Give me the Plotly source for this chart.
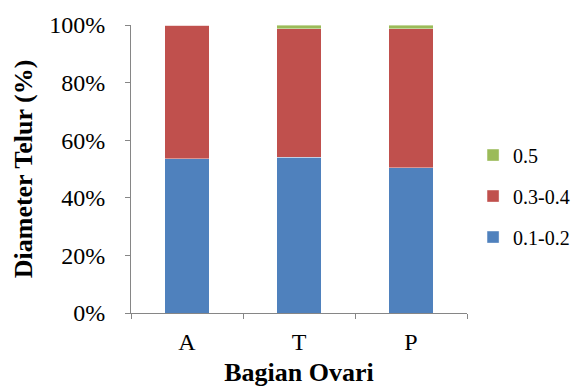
import plotly.graph_objects as go

categories = ["A", "T", "P"]
series_names = ["0.1-0.2", "0.3-0.4", "0.5"]
legend_ranks = [3, 2, 1]
v_small = [53.5, 54.1, 50.5]
v_mid = [46.5, 44.6, 48.2]
v_large = [0.0, 1.3, 1.3]
colors = ["#4F81BD", "#C0504D", "#9BBB59"]
ytick_vals = [0, 20, 40, 60, 80, 100]
ytick_text = ["0%", "20%", "40%", "60%", "80%", "100%"]

font_family = "Liberation Serif"

fig = go.Figure()
for name, vals, col, rk in zip(series_names, [v_small, v_mid, v_large], colors, legend_ranks):
    fig.add_trace(go.Bar(
        x=categories, y=vals, name=name, legendgroup=name, legendrank=rk,
        marker=dict(color=col, line=dict(color="rgba(255,255,255,0.5)", width=0.8)),
        width=0.4,
    ))

axis_col = "#868686"
fig.update_layout(
    barmode="stack",
    width=573, height=387,
    margin=dict(l=131, r=106, t=25, b=74, autoexpand=False),
    paper_bgcolor="white", plot_bgcolor="white",
    font=dict(family=font_family, color="black", size=24),
    showlegend=True,
    legend=dict(
        x=1.018, y=0.406, xanchor="left", yanchor="middle",
        traceorder="grouped", tracegroupgap=12,
        font=dict(size=20, family=font_family, color="black"),
        itemwidth=30,
        bgcolor="rgba(0,0,0,0)",
    ),
    xaxis=dict(
        showline=True, linecolor=axis_col, linewidth=1,
        ticks="outside", tickson="boundaries", ticklen=5, tickcolor=axis_col,
        tickfont=dict(size=24), ticklabelstandoff=7,
        title=dict(text="<b>Bagian Ovari</b>", font=dict(size=26), standoff=11),
        range=[-0.5, 2.5],
    ),
    yaxis=dict(
        showline=True, linecolor=axis_col, linewidth=1,
        ticks="outside", ticklen=5, tickcolor=axis_col,
        range=[0, 100], tickvals=ytick_vals, ticktext=ytick_text,
        showgrid=False, zeroline=False,
        tickfont=dict(size=24), ticklabelstandoff=15,
        title=dict(text="<b>Diameter Telur (%)</b>", font=dict(size=26), standoff=9),
    ),
)

fig.write_html("out.html")
